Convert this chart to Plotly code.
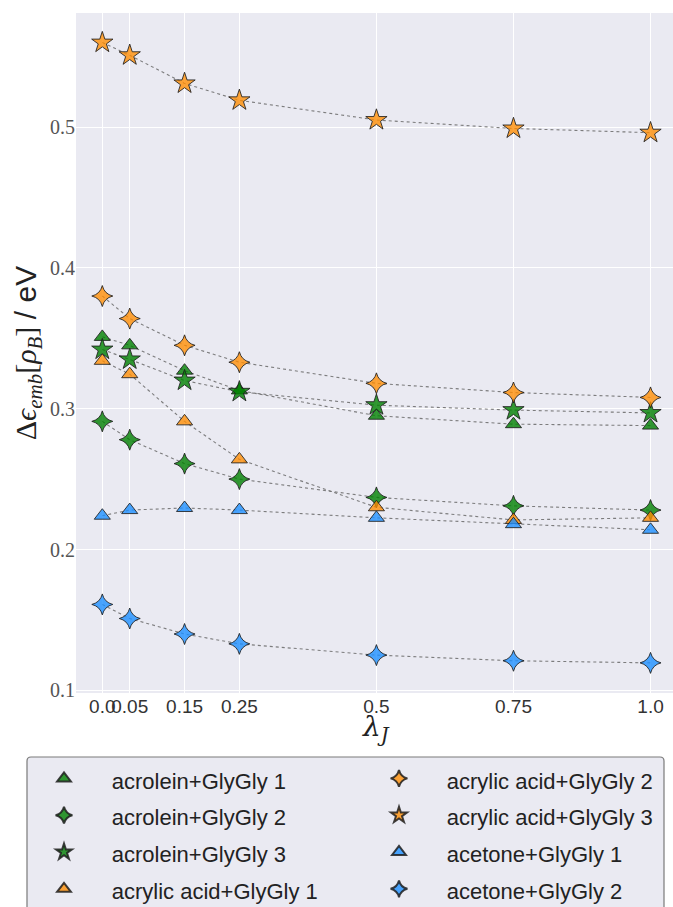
import plotly.graph_objects as go

# ---- data ----
lam = [0.0, 0.05, 0.15, 0.25, 0.5, 0.75, 1.0]
x_tick_vals = [0.0, 0.05, 0.15, 0.25, 0.5, 0.75, 1.0]
x_tick_text = ["0.0", "0.05", "0.15", "0.25", "0.5", "0.75", "1.0"]
y_tick_vals = [0.1, 0.2, 0.3, 0.4, 0.5]
y_tick_text = ["0.1", "0.2", "0.3", "0.4", "0.5"]

acrolein_1 = [0.351, 0.345, 0.327, 0.313, 0.295, 0.289, 0.288]
acrolein_2 = [0.291, 0.278, 0.261, 0.250, 0.237, 0.231, 0.228]
acrolein_3 = [0.342, 0.335, 0.320, 0.312, 0.3025, 0.299, 0.297]
acrylic_1 = [0.334, 0.3245, 0.291, 0.264, 0.230, 0.221, 0.2225]
acrylic_2 = [0.380, 0.364, 0.345, 0.333, 0.318, 0.3115, 0.308]
acrylic_3 = [0.560, 0.551, 0.531, 0.519, 0.505, 0.499, 0.496]
acetone_1 = [0.224, 0.228, 0.2295, 0.228, 0.2225, 0.218, 0.214]
acetone_2 = [0.161, 0.151, 0.140, 0.133, 0.125, 0.121, 0.1195]

names = ["acrolein+GlyGly 1", "acrolein+GlyGly 2", "acrolein+GlyGly 3",
         "acrylic acid+GlyGly 1", "acrylic acid+GlyGly 2", "acrylic acid+GlyGly 3",
         "acetone+GlyGly 1", "acetone+GlyGly 2"]
series = [acrolein_1, acrolein_2, acrolein_3, acrylic_1, acrylic_2, acrylic_3,
          acetone_1, acetone_2]

GREEN = "rgba(0,128,0,0.8)"
ORANGE = "rgba(255,140,0,0.78)"
BLUE = "rgba(30,144,255,0.8)"
colors = [GREEN, GREEN, GREEN, ORANGE, ORANGE, ORANGE, BLUE, BLUE]
symbols = ["triangle-up", "star-diamond", "star", "triangle-up", "star-diamond",
           "star", "triangle-up", "star-diamond"]
sizes = [14, 15, 16, 14, 15, 16, 14, 15]
# legend arranged row-major in two columns: col1 = first four, col2 = last four
legend_rank = [1, 3, 5, 7, 2, 4, 6, 8]

fig = go.Figure()
for vals in series:
    fig.add_trace(go.Scatter(x=lam, y=vals, mode="lines",
                             line=dict(color="rgba(105,105,105,0.85)", width=1.1, dash="dot"),
                             showlegend=False, hoverinfo="skip"))
NB = "\u00a0"
for name, vals, c, s, sz, rk in zip(names, series, colors, symbols, sizes, legend_rank):
    label = NB * 3 + '<span style="font-size:22px">' + NB + name + '</span>'
    fig.add_trace(go.Scatter(x=lam, y=vals, mode="markers", name=label,
                             legendrank=rk,
                             marker=dict(color=c, symbol=s, size=sz,
                                         line=dict(color="rgba(30,30,30,0.85)", width=1))))

W, H = 673, 907
L, R, T, B = 76, 0, 13, 214
pw, ph = W - L - R, H - T - B

def px2paper_x(px):
    return (px - L) / pw

def px2paper_y(py):
    return (H - B - py) / ph

# legend frame (rounded rectangle), extends past the bottom edge
x0, x1 = px2paper_x(27), px2paper_x(664)
y0, y1 = px2paper_y(757), px2paper_y(930)
r = 4 / pw
ry = 4 / ph
path = (f"M {x0+r},{y0} L {x1-r},{y0} Q {x1},{y0} {x1},{y0-ry} "
        f"L {x1},{y1} L {x0},{y1} L {x0},{y0-ry} Q {x0},{y0} {x0+r},{y0} Z")
fig.add_shape(type="path", path=path, xref="paper", yref="paper",
              fillcolor="#EAEAF2", line=dict(color="#7a7a7a", width=1.2), layer="below")

fig.add_annotation(text="<i>λ<sub>J</sub></i>", xref="paper", yref="paper",
                   x=px2paper_x(376), y=px2paper_y(728), xanchor="center", yanchor="middle",
                   showarrow=False,
                   font=dict(family="DejaVu Serif, serif", size=28, color="#222"))

fig.update_layout(
    width=W, height=H,
    margin=dict(l=L, r=R, t=T, b=B, autoexpand=False),
    paper_bgcolor="white", plot_bgcolor="#EAEAF2",
    showlegend=True,
    legend=dict(orientation="h", x=px2paper_x(44), y=px2paper_y(755),
                xanchor="left", yanchor="top",
                bgcolor="rgba(0,0,0,0)", borderwidth=0,
                entrywidth=290, entrywidthmode="pixels",
                itemsizing="constant", maxheight=400,
                font=dict(family="Liberation Sans, Arial, sans-serif", size=26, color="#222")),
    xaxis=dict(range=[-0.048, 1.041], tickmode="array", tickvals=x_tick_vals,
               ticktext=x_tick_text, tickangle=0, showgrid=True, gridcolor="white",
               gridwidth=1.2, zeroline=False, showline=False, ticks="",
               tickfont=dict(family="Liberation Sans, Arial, sans-serif", size=19, color="#333")),
    yaxis=dict(range=[0.0981, 0.581], tickmode="array", tickvals=y_tick_vals,
               ticktext=y_tick_text, showgrid=True, gridcolor="white", gridwidth=1.2,
               zeroline=False, showline=False, ticks="",
               tickfont=dict(family="Liberation Serif, Times New Roman, serif", size=20, color="#555"),
               title=dict(text="Δ<i>ϵ<sub>emb</sub></i>[<i>ρ<sub>B</sub></i>] <span style=\"font-family:Liberation Sans\">/ eV</span>",
                          standoff=4,
                          font=dict(family="Liberation Serif, serif", size=30, color="#222"))),
)

fig.write_html("out.html")
